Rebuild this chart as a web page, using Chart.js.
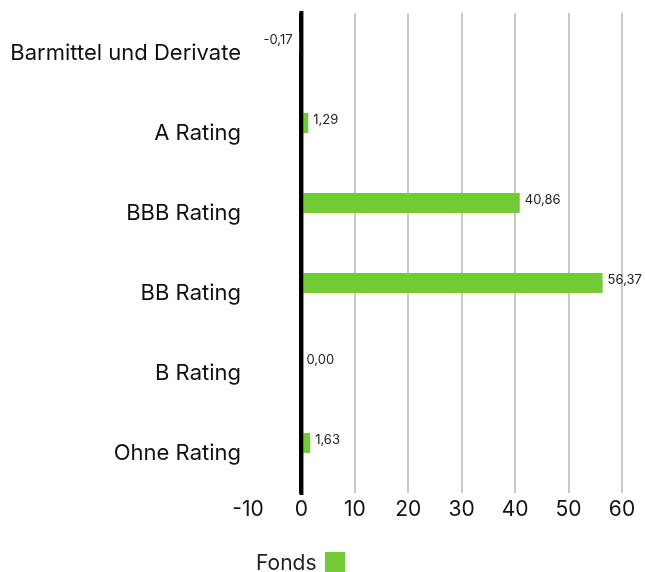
<!DOCTYPE html>
<html>
<head>
<meta charset="utf-8">
<script src="https://cdn.jsdelivr.net/npm/chart.js@4.4.1/dist/chart.umd.min.js"></script>
<style>
  html, body { margin: 0; padding: 0; background: #fff; }
  #wrap { position: relative; width: 645px; height: 572px; }
  #legend { position: absolute; left: 256px; top: 550px; height: 24px; display: flex; align-items: center;
            font-family: "Inter", sans-serif; font-size: 21px; color: #222; }
  #legend .box { width: 20px; height: 20px; margin-left: 8px; background: #74c936; }
</style>
</head>
<body>
<div id="wrap">
  <canvas id="c" width="645" height="572"></canvas>
  <div id="legend"><span id="legendText"></span><span class="box"></span></div>
</div>
<script>
const categories = ["Barmittel und Derivate", "A Rating", "BBB Rating", "BB Rating", "B Rating", "Ohne Rating"];
const fondsValues = [-0.17, 1.29, 40.86, 56.37, 0.00, 1.63];
const emptyValues = [null, null, null, null, null, null];
const seriesName = "Fonds";
const xTicks = [-10, 0, 10, 20, 30, 40, 50, 60];

const FONT = "Inter";
const GREEN = "#74c936";

document.getElementById("legendText").textContent = seriesName;

const valueLabels = {
  id: "valueLabels",
  afterDatasetsDraw(chart) {
    const ctx = chart.ctx;
    const xs = chart.scales.x;
    const area = chart.chartArea;
    // zero line on top of the bars
    const x0 = xs.getPixelForValue(0);
    ctx.save();
    ctx.strokeStyle = "#000";
    ctx.lineWidth = 4;
    ctx.beginPath();
    ctx.moveTo(x0, area.top - 2);
    ctx.lineTo(x0, area.bottom + 2);
    ctx.stroke();
    ctx.restore();

    const meta = chart.getDatasetMeta(0);
    ctx.save();
    ctx.font = "13px " + FONT;
    ctx.fillStyle = "#222";
    ctx.textBaseline = "middle";
    meta.data.forEach((bar, i) => {
      const v = fondsValues[i];
      const txt = v.toFixed(2).replace(".", ",");
      if (v < 0) {
        ctx.textAlign = "right";
        ctx.fillText(txt, bar.x - 8, bar.y - 3);
      } else {
        ctx.textAlign = "left";
        ctx.fillText(txt, bar.x + 5, bar.y - 3);
      }
    });
    ctx.restore();
  }
};

new Chart(document.getElementById("c"), {
  type: "bar",
  data: {
    labels: categories,
    datasets: [
      { label: seriesName, data: fondsValues, backgroundColor: GREEN, borderWidth: 0,
        categoryPercentage: 0.5, barPercentage: 1.0 },
      { label: "", data: emptyValues, backgroundColor: "transparent",
        categoryPercentage: 0.5, barPercentage: 1.0 }
    ]
  },
  options: {
    indexAxis: "y",
    responsive: false,
    animation: false,
    layout: { padding: { top: 13, right: 23, bottom: 48, left: 0 } },
    plugins: { legend: { display: false }, tooltip: { enabled: false } },
    scales: {
      x: {
        min: -10, max: 60,
        afterBuildTicks(scale) { scale.ticks = xTicks.map(v => ({ value: v })); },
        afterFit(scale) { scale.height = 31; scale.paddingLeft = 0; scale.paddingRight = 0; },
        border: { display: false },
        grid: {
          drawTicks: false,
          color: c => c.tick && c.tick.value === -10 ? "rgba(0,0,0,0)" : (c.tick && c.tick.value === 0 ? "#000" : "#c8c8c8"),
          lineWidth: c => c.tick && c.tick.value === 0 ? 4 : 2
        },
        ticks: { padding: 4, color: "#111", font: { family: FONT, size: 21 },
                 callback: v => String(v) }
      },
      y: {
        afterFit(scale) { scale.width = 248; scale.paddingTop = 0; scale.paddingBottom = 0; },
        border: { display: false },
        grid: { display: false, drawTicks: false },
        ticks: { padding: 7, color: "#111", font: { family: FONT, size: 22 } }
      }
    }
  },
  plugins: [valueLabels]
});
</script>
</body>
</html>
